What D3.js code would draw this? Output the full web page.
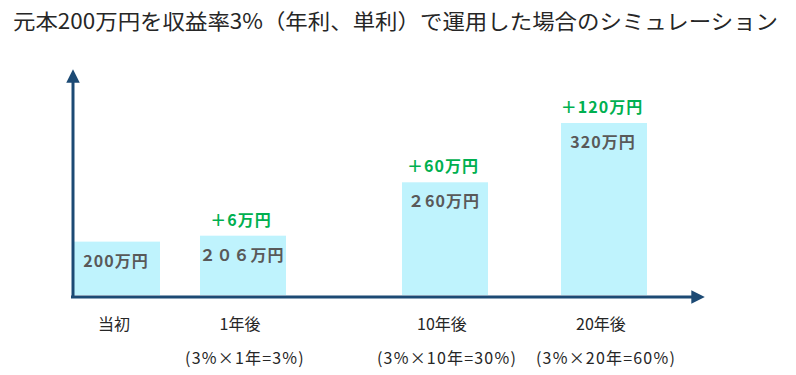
<!DOCTYPE html>
<html lang="ja">
<head>
    <meta charset="UTF-8">
    <title>シミュレーション</title>
    <script src="https://cdn.jsdelivr.net/npm/d3@7"></script>
    <style>
        body {
            margin: 0;
            background-color: #ffffff;
            font-family: "Noto Sans CJK JP", sans-serif;
        }
        .title { font-size: 21px; fill: #262626; }
        .val { font-size: 16px; font-weight: bold; fill: #595959; letter-spacing: 1px; }
        .gain { font-size: 16px; font-weight: bold; fill: #00b050; letter-spacing: 1px; }
        .cat { font-size: 16px; fill: #262626; }
        .formula { font-size: 16px; fill: #262626; letter-spacing: 1.2px; }
    </style>
</head>
<body>
    <svg id="chart" width="796" height="375"></svg>
    <script>
        // data
        let categories = ["当初", "1年後", "10年後", "20年後"]
        let values = [200, 206, 260, 320]
        let valueLabels = ["200万円", "２０６万円", "２60万円", "320万円"]
        let gainLabels = ["", "＋6万円", "＋60万円", "＋120万円"]
        let formulaLabels = ["", "(3%×1年=3%)", "(3%×10年=30%)", "(3%×20年=60%)"]
        let titleText = "元本200万円を収益率3%（年利、単利）で運用した場合のシミュレーション"

        let svg = d3.select("#chart")

        // title
        svg.append("text")
            .attr("class", "title")
            .attr("x", 13)
            .attr("y", 29)
            .attr("textLength", 765)
            .attr("lengthAdjust", "spacingAndGlyphs")
            .text(titleText)

        // scales (bars are not evenly spaced in the original)
        let x = d3.scaleOrdinal()
            .domain(categories)
            .range([117, 243, 445, 604])
        let barW = 86
        let y = d3.scaleLinear()
            .domain([146, 320])
            .range([295, 123])

        // bars
        svg.selectAll("rect.bar")
            .data(values)
            .enter()
            .append("rect")
            .attr("class", "bar")
            .attr("x", (d, i) => x(categories[i]) - barW / 2)
            .attr("y", d => y(d))
            .attr("width", barW)
            .attr("height", d => y.range()[0] - y(d))
            .attr("fill", "#bff3fd")

        // axes with arrows
        let axisColor = "#1c4a74"
        let defs = svg.append("defs")
        defs.append("marker")
            .attr("id", "arrow")
            .attr("viewBox", "0 0 10 10")
            .attr("refX", 2)
            .attr("refY", 5)
            .attr("markerWidth", 4.5)
            .attr("markerHeight", 4.5)
            .attr("orient", "auto")
            .append("path")
            .attr("d", "M0,0 L10,5 L0,10 z")
            .attr("fill", axisColor)

        svg.append("line")
            .attr("x1", 73).attr("y1", 297)
            .attr("x2", 73).attr("y2", 80)
            .attr("stroke", axisColor)
            .attr("stroke-width", 3)
            .attr("marker-end", "url(#arrow)")
        svg.append("line")
            .attr("x1", 71).attr("y1", 297)
            .attr("x2", 694).attr("y2", 297)
            .attr("stroke", axisColor)
            .attr("stroke-width", 3)
            .attr("marker-end", "url(#arrow)")

        // value labels inside bars
        svg.selectAll("text.val")
            .data(values)
            .enter()
            .append("text")
            .attr("class", "val")
            .attr("x", (d, i) => x(categories[i]) - 1)
            .attr("y", d => y(d) + 18)
            .attr("text-anchor", "middle")
            .attr("dominant-baseline", "central")
            .text((d, i) => valueLabels[i])

        // gain labels above bars
        svg.selectAll("text.gain")
            .data(values)
            .enter()
            .append("text")
            .attr("class", "gain")
            .attr("x", (d, i) => x(categories[i]) - 2)
            .attr("y", d => y(d) - 17)
            .attr("text-anchor", "middle")
            .attr("dominant-baseline", "central")
            .text((d, i) => gainLabels[i])

        // category labels
        svg.selectAll("text.cat")
            .data(categories)
            .enter()
            .append("text")
            .attr("class", "cat")
            .attr("x", d => x(d) - 3)
            .attr("y", 323)
            .attr("text-anchor", "middle")
            .attr("dominant-baseline", "central")
            .text(d => d)

        svg.selectAll("text.formula")
            .data(formulaLabels)
            .enter()
            .append("text")
            .attr("class", "formula")
            .attr("x", (d, i) => x(categories[i]) + 2)
            .attr("y", 357)
            .attr("text-anchor", "middle")
            .attr("dominant-baseline", "central")
            .text(d => d)
    </script>
</body>
</html>
